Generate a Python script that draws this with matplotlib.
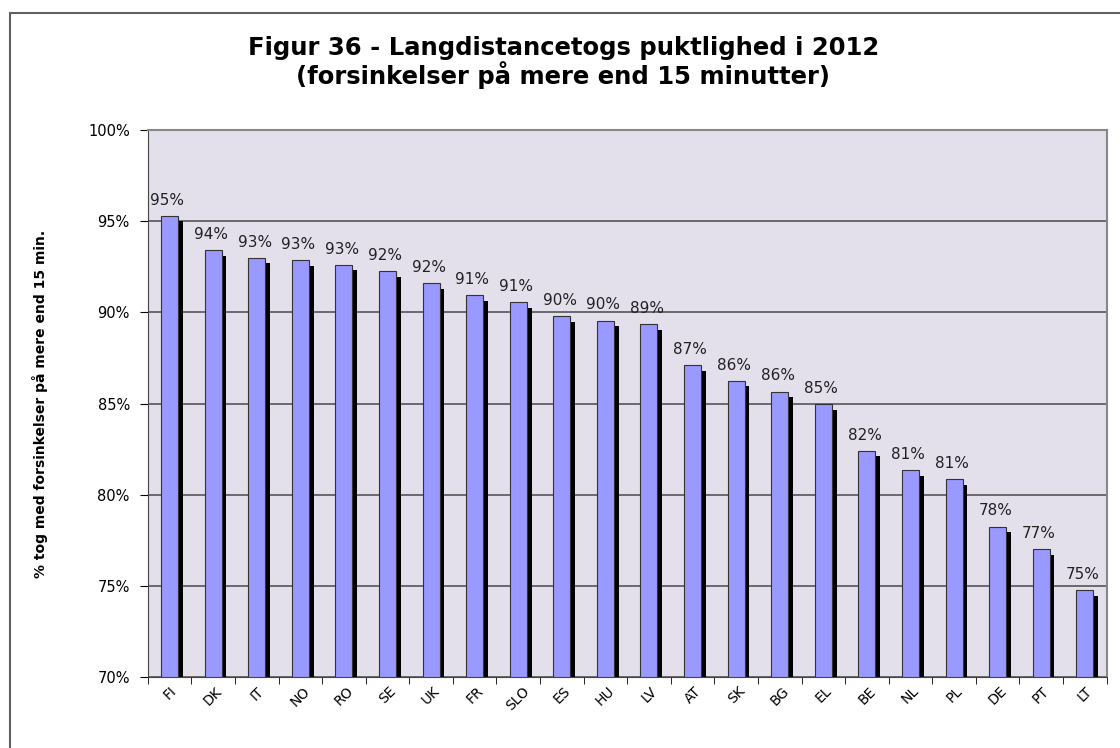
import matplotlib
matplotlib.use("Agg")
import matplotlib.pyplot as plt
import numpy as np
from matplotlib.patches import Rectangle
from matplotlib.ticker import FuncFormatter

countries = ["FI", "DK", "IT", "NO", "RO", "SE", "UK", "FR", "SLO", "ES", "HU",
             "LV", "AT", "SK", "BG", "EL", "BE", "NL", "PL", "DE", "PT", "LT"]
values = [95.3, 93.4, 93.0, 92.85, 92.6, 92.25, 91.6, 90.95, 90.55, 89.8, 89.55,
          89.35, 87.1, 86.25, 85.65, 84.95, 82.4, 81.35, 80.85, 78.25, 77.0, 74.75]
labels = ["95%", "94%", "93%", "93%", "93%", "92%", "92%", "91%", "91%", "90%", "90%",
          "89%", "87%", "86%", "86%", "85%", "82%", "81%", "81%", "78%", "77%", "75%"]

fig = plt.figure(figsize=(11.2, 7.48), dpi=100)
ax = fig.add_axes([0.132, 0.095, 0.856, 0.731])

# chart frame (runs off the right and bottom edges, as in the original)
fig.patches.append(Rectangle((0.009, -0.02), 1.2, 0.9826 + 0.02, transform=fig.transFigure,
                             fill=False, edgecolor="#606060", lw=1.5))

ax.set_facecolor("#E3DFEB")
x = np.arange(len(countries))
w = 0.39
vals = np.array(values)
# shadow
ax.bar(x + 0.11, vals - 70.3, width=w, bottom=70, color="black", zorder=2)
ax.bar(x, vals - 70, width=w, bottom=70, color="#9999FF",
       edgecolor="#333333", lw=0.8, zorder=3)

for xi, v, lab in zip(x, values, labels):
    ax.text(xi - 0.05, v + 0.45, lab, ha="center", va="bottom", fontsize=11,
            color="#222222")

ax.set_ylim(70, 100)
ax.set_xlim(-0.5, len(countries) - 0.5)
ax.set_yticks(np.arange(70, 101, 5))
ax.yaxis.set_major_formatter(FuncFormatter(lambda v, p: f"{v:.0f}%"))
ax.yaxis.grid(True, color="#555555", lw=1.2)
ax.set_axisbelow(True)
ax.set_xticks(x)
ax.set_xticklabels(countries, rotation=45, fontsize=10)
ax.tick_params(axis="y", labelsize=10.5, length=6, pad=7)
ax.tick_params(axis="x", length=0, pad=5)
ax.set_xticks(np.arange(-0.5, len(countries), 1), minor=True)
ax.tick_params(axis="x", which="minor", length=5)

for s in ["top", "right"]:
    ax.spines[s].set_color("#888888")
    ax.spines[s].set_linewidth(1.5)
ax.spines["left"].set_color("#444444")
ax.spines["bottom"].set_color("#444444")

ax.set_ylabel("% tog med forsinkelser på mere end 15 min.", fontsize=10, fontweight="bold",
              labelpad=29)
fig.text(0.503, 0.917, "Figur 36 - Langdistancetogs puktlighed i 2012\n(forsinkelser på mere end 15 minutter)",
         ha="center", va="center", fontsize=17.5, fontweight="bold", linespacing=1.05)

fig.savefig("out.png", dpi=100)
